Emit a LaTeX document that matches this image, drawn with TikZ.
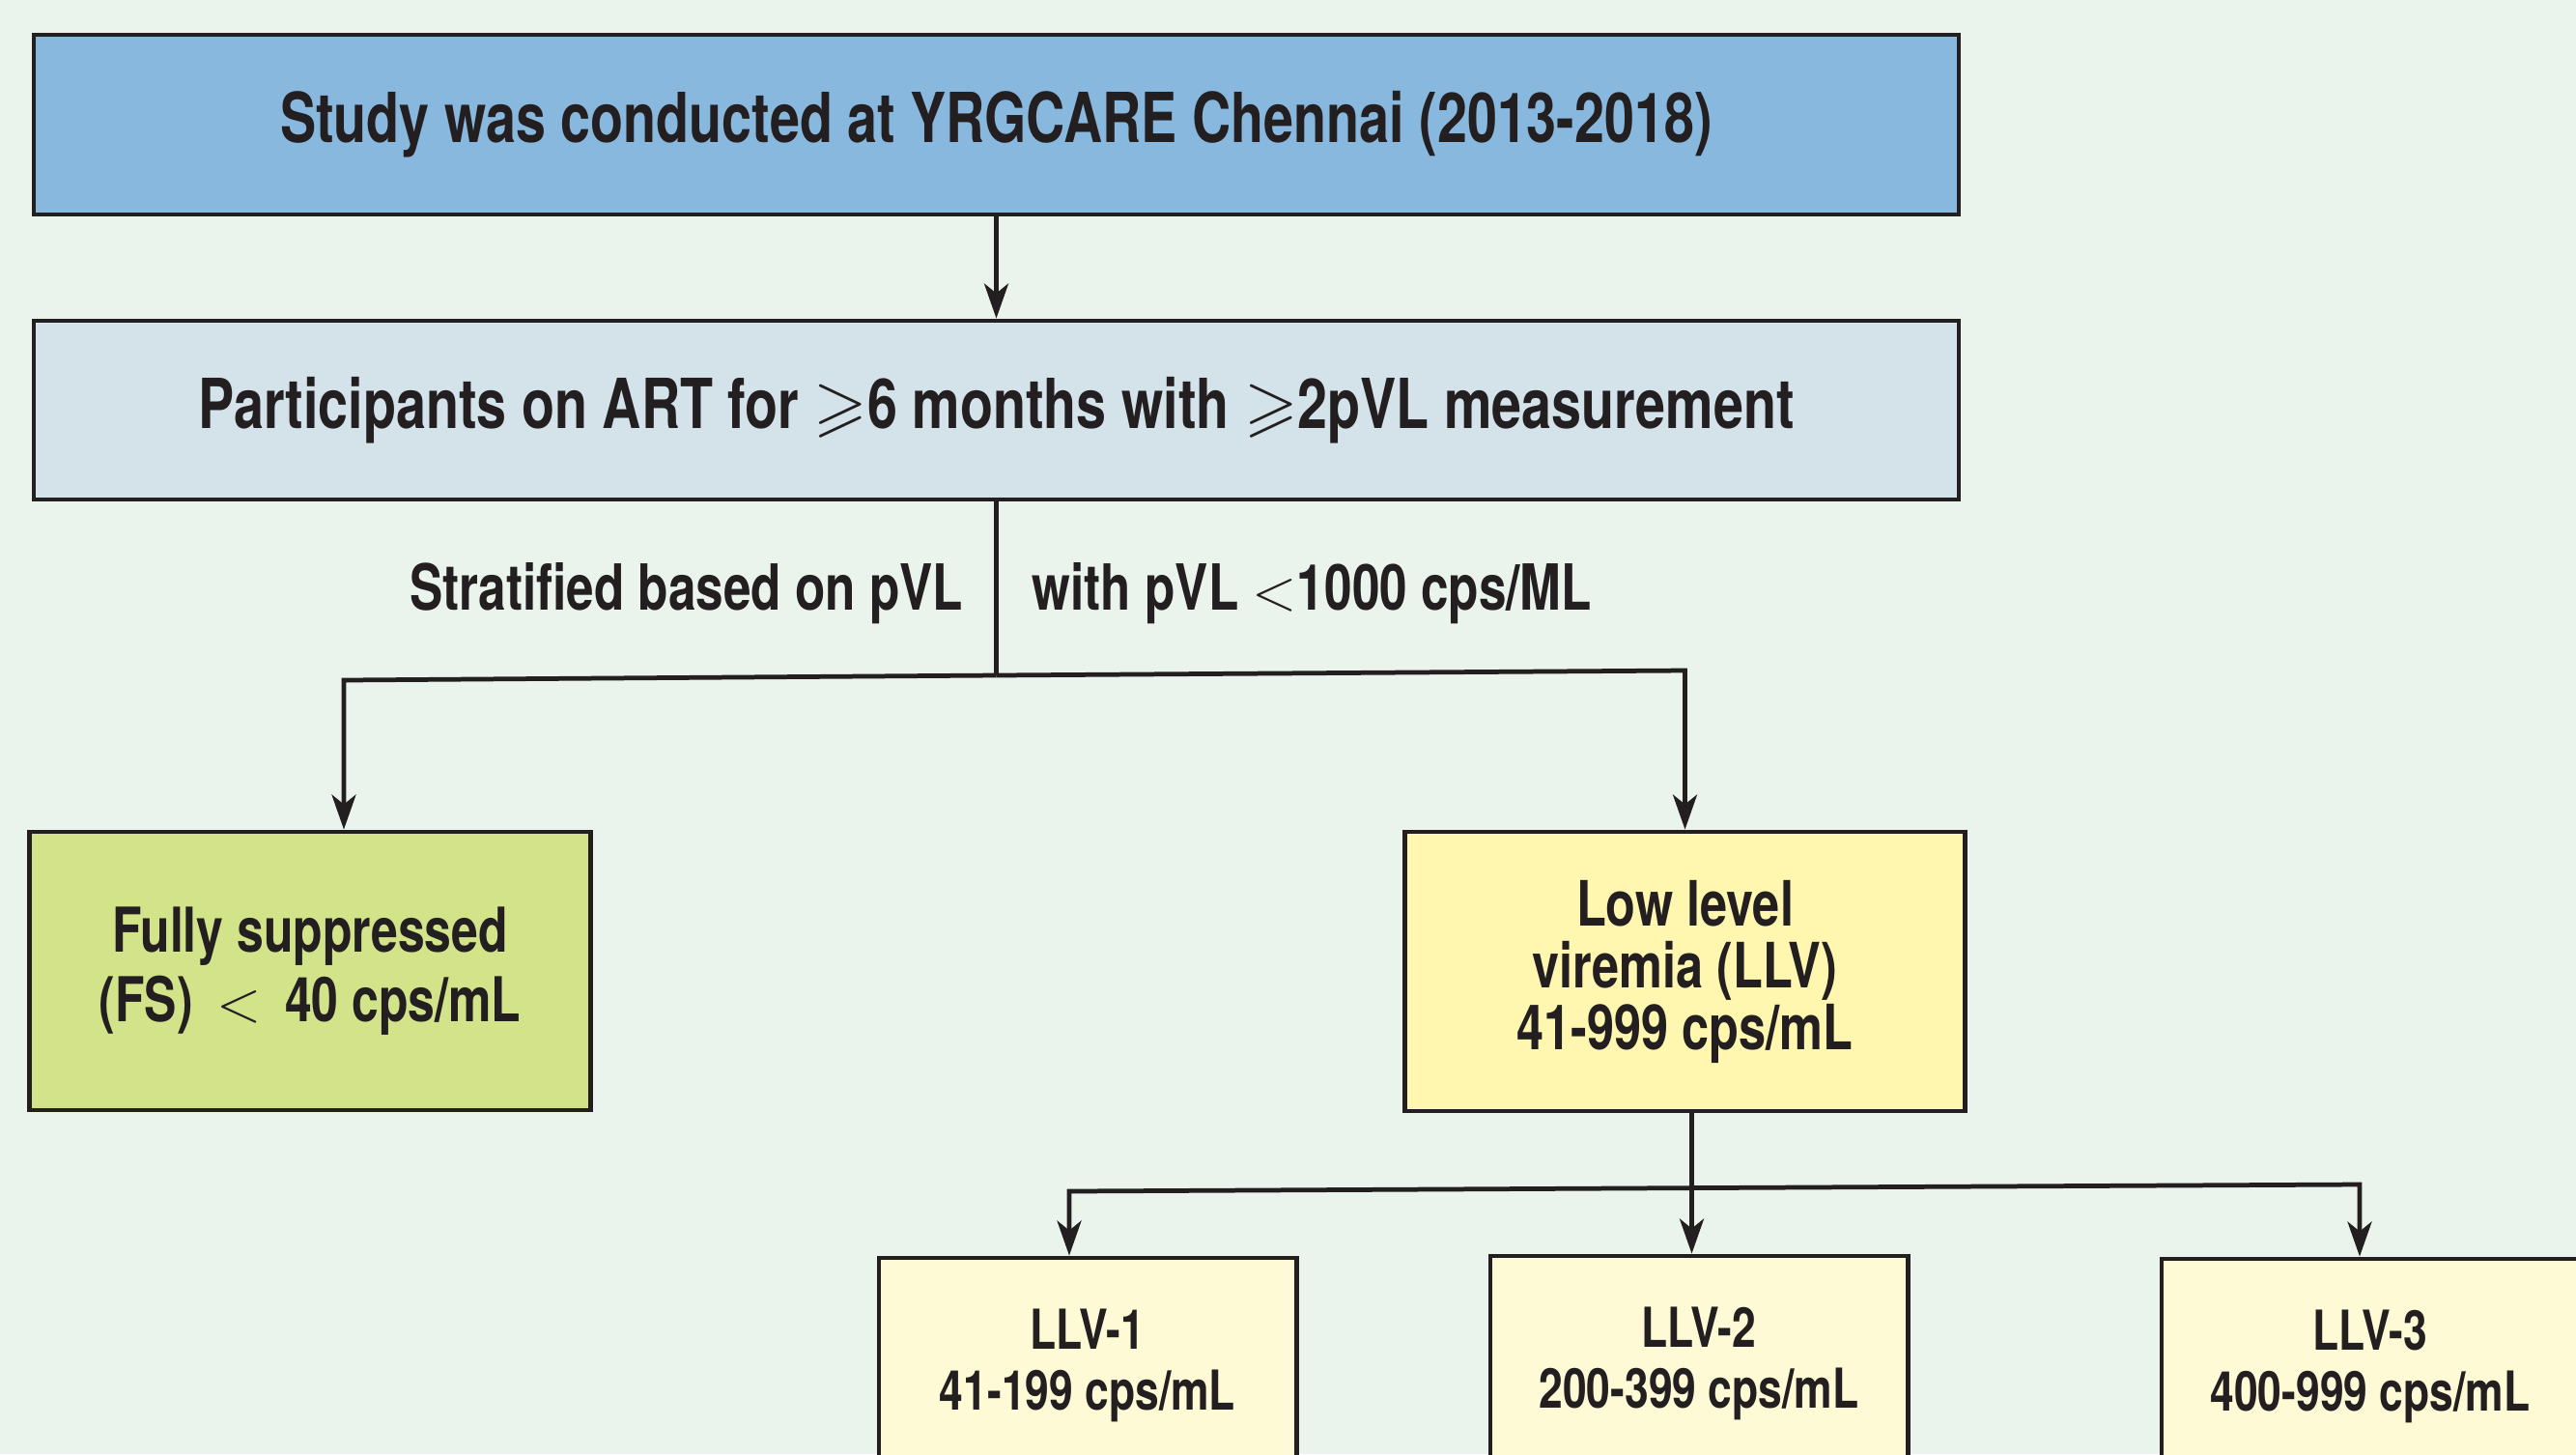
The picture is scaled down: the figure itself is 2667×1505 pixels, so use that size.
\documentclass[tikz,border=0pt]{standalone}
\usepackage{amssymb}
\usepackage{fontspec}
\setmainfont{TeX Gyre Heros}[FakeStretch=0.78]
\usetikzlibrary{arrows.meta}
\definecolor{bgc}{RGB}{234,244,236}
\definecolor{topc}{RGB}{137,184,223}
\definecolor{secc}{RGB}{212,226,234}
\definecolor{fsc}{RGB}{211,227,138}
\definecolor{llvc}{RGB}{255,247,176}
\definecolor{subc}{RGB}{255,250,214}
\definecolor{ink}{RGB}{35,31,32}
\begin{document}
\begin{tikzpicture}[x=0.01cm,y=-0.01cm,
  box/.style={draw=ink, line width=1.35pt, rectangle, inner sep=0pt, text=ink, align=center},
  bigtxt/.style={font=\bfseries\fontsize{20.3}{23}\selectfont},
  midtxt/.style={font=\bfseries\fontsize{18.4}{18.2}\selectfont},
  fstxt/.style={font=\bfseries\fontsize{18.2}{20.5}\selectfont},
  subtxt/.style={font=\bfseries\fontsize{16.2}{17.9}\selectfont},
  conn/.style={draw=ink, line width=1.35pt},
  arr/.style={conn, -{Stealth[length=0.36cm,width=0.25cm,inset=0.1cm]}},
  lab/.style={inner sep=0pt, text=ink, font=\bfseries\fontsize{18.7}{22}\selectfont}]
\useasboundingbox (0,0) rectangle (2667,1505);
\clip (0,0) rectangle (2667,1505);
\fill[bgc] (0,0) rectangle (2667,1505);

\node[box, bigtxt, fill=topc, minimum width=19.92cm, minimum height=1.86cm] (top) at (1031.5,129)
  {Study was conducted at YRGCARE Chennai (2013-2018)};
\node[box, bigtxt, fill=secc, minimum width=19.92cm, minimum height=1.85cm] (second) at (1031.5,424.5)
  {Participants on ART for $\geqslant$6 months with $\geqslant$2pVL measurement};

\node[lab, anchor=base east] (strat) at (998,631) {Stratified based on pVL};
\node[lab, anchor=base west] (with) at (1068,631) {with pVL $<$1000 cps/ML};

\node[box, fstxt, fill=fsc, minimum width=5.80cm, minimum height=2.88cm] (fs) at (321,1005)
  {Fully suppressed\\(FS)\,\ $<$\ \,40 cps/mL};
\node[box, midtxt, fill=llvc, minimum width=5.79cm, minimum height=2.89cm] (llv) at (1744.5,1005.5)
  {Low level\\viremia (LLV)\\41-999 cps/mL};

\node[box, subtxt, fill=subc, minimum width=4.32cm, minimum height=2.22cm] (llv1) at (1126,1413)
  {LLV-1\\41-199 cps/mL};
\node[box, subtxt, fill=subc, minimum width=4.32cm, minimum height=2.22cm] (llv2) at (1759,1411)
  {LLV-2\\200-399 cps/mL};
\node[box, subtxt, fill=subc, minimum width=4.32cm, minimum height=2.22cm] (llv3) at (2454,1414)
  {LLV-3\\400-999 cps/mL};

\draw[arr] (top) -- (second);
\coordinate (jl) at (356,704);
\coordinate (jr) at (1744.5,694);
\coordinate (jm) at (1031.5,699);
\draw[conn] (second.south) -- (jm);
\draw[arr] (jm) -- (jl) -- (jl |- fs.north);
\draw[arr] (jm) -- (jr) -- (llv.north);

\coordinate (km) at (1751.5,1229.6);
\coordinate (kl) at (1107,1233);
\coordinate (kr) at (2443,1226);
\draw[arr] (km |- llv.south) -- (km |- llv2.north);
\draw[arr] (km) -- (kl) -- (kl |- llv1.north);
\draw[arr] (km) -- (kr) -- (kr |- llv3.north);
\end{tikzpicture}
\end{document}
